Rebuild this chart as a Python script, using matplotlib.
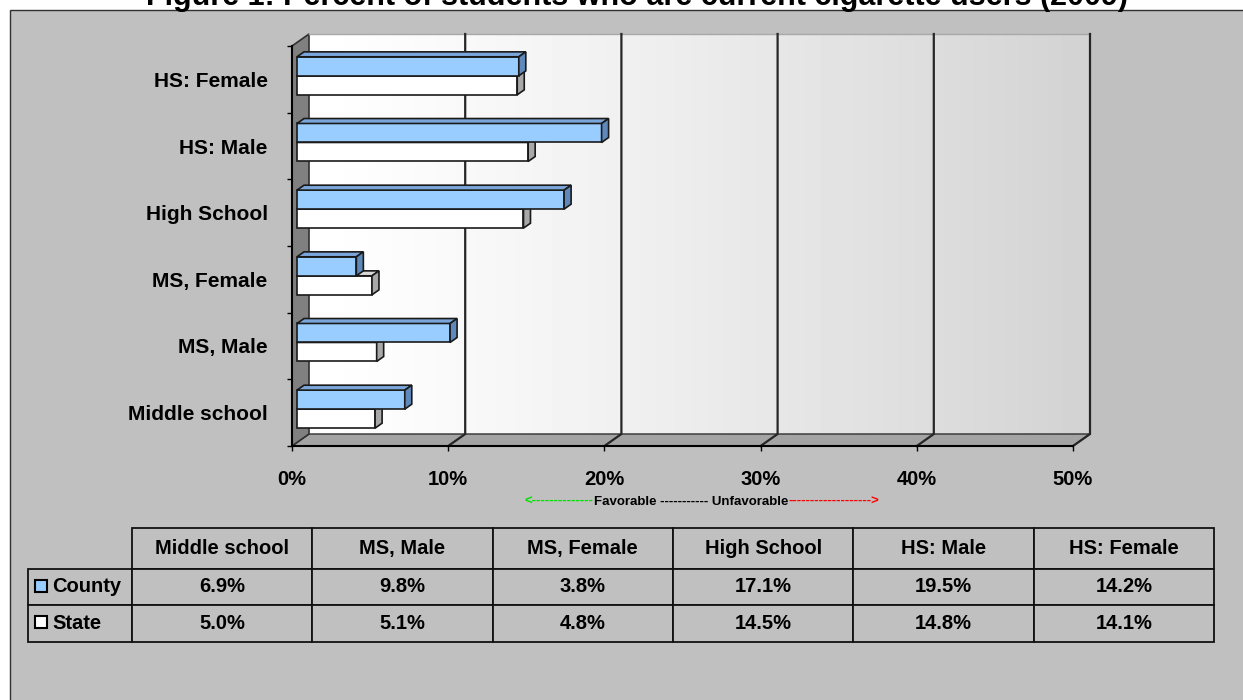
import numpy as np
import matplotlib.pyplot as plt
from matplotlib.patches import Polygon, Rectangle

plt.rcParams['font.family'] = ['Liberation Sans', 'DejaVu Sans']
plt.rcParams['font.weight'] = 'bold'

# data
categories = ['Middle school', 'MS, Male', 'MS, Female', 'High School', 'HS: Male', 'HS: Female']
county = [6.9, 9.8, 3.8, 17.1, 19.5, 14.2]
state = [5.0, 5.1, 4.8, 14.5, 14.8, 14.1]
series = ['County', 'State']
x_ticks = [0, 10, 20, 30, 40, 50]
x_labels = ['0%', '10%', '20%', '30%', '40%', '50%']
title = 'Figure 1: Percent of students who are current cigarette users (2009)'

W, H = 1243, 700


def fx(px):
    return px / W


def fy(py):
    return 1 - py / H


fig = plt.figure(figsize=(W / 100, H / 100), dpi=100)
fig.patch.set_facecolor('white')
fig.add_artist(Rectangle((fx(9.5), -0.02), 1.1, fy(10) + 0.02, transform=fig.transFigure,
                         facecolor='#c0c0c0', edgecolor='#303030', lw=1, zorder=0))
fig.text(fx(637), fy(5), title, ha='center', va='baseline', fontsize=22, fontweight='bold')

# main 3d-looking bar chart, data coords are the front plane
ax = fig.add_axes([fx(292), fy(446), (1073 - 292) / W, 400 / H])
ax.set_facecolor('none')
DX = 50 * 17 / 781   # depth shift in x units
DY = 6 * 12 / 400    # depth shift in y units
Z0, Z1 = 5 / 17, 12 / 17  # bar depth inside the box
BAR_H = 0.285

grad = np.linspace(0, 1, 256) ** 1.2
grad = 1.0 - 0.175 * grad
ax.imshow(grad[None, :], cmap='gray', vmin=0, vmax=1, extent=[DX, 50 + DX, DY, 6 + DY],
          aspect='auto', zorder=0.5, clip_on=False, interpolation='bilinear')

ax.add_patch(Polygon([(0, 0), (50, 0), (50 + DX, DY), (DX, DY)], closed=True, fc='#a4a4a4',
                     ec='#303030', lw=1, clip_on=False, zorder=1))
ax.add_patch(Polygon([(0, 0), (DX, DY), (DX, 6 + DY), (0, 6)], closed=True, fc='#808080',
                     ec='#303030', lw=1.2, clip_on=False, zorder=1))
ax.plot([DX, 50 + DX], [6 + DY, 6 + DY], color='#a8a8a8', lw=1, clip_on=False, zorder=1.2)
for t in x_ticks[1:]:
    ax.plot([t, t + DX, t + DX], [0, DY, 6 + DY], color='#262626', lw=1.6,
            clip_on=False, zorder=1.5, solid_joinstyle='miter')


def p(x, y, z):
    return (x + z * DX, y + z * DY)


def bar3d(y0, v, front, top, side, z):
    y1 = y0 + BAR_H
    faces = [
        ([p(0, y0, Z0), p(v, y0, Z0), p(v, y1, Z0), p(0, y1, Z0)], front),
        ([p(0, y1, Z0), p(v, y1, Z0), p(v, y1, Z1), p(0, y1, Z1)], top),
        ([p(v, y0, Z0), p(v, y0, Z1), p(v, y1, Z1), p(v, y1, Z0)], side),
    ]
    for pts, c in faces:
        ax.add_patch(Polygon(pts, closed=True, fc=c, ec='#1a1a1a', lw=1.2, joinstyle='miter',
                             clip_on=False, zorder=z))


for i, (cv, sv) in enumerate(zip(county, state)):
    bar3d(i + 0.5 - BAR_H, sv, 'white', '#d8d8d8', '#a8a8a8', 3 + i * 0.1)
    bar3d(i + 0.5, cv, '#99ccff', '#7aa6da', '#5f88bb', 3.05 + i * 0.1)

ax.set_xlim(0, 50)
ax.set_ylim(0, 6)
ax.set_xticks(x_ticks)
ax.set_xticklabels(x_labels)
ax.tick_params(axis='x', length=3.6, width=1, pad=13.5, labelsize=14.5, direction='out')
ax.set_yticks(np.arange(7))
ax.set_yticklabels([])
ax.set_yticks(np.arange(6) + 0.5, minor=True)
ax.set_yticklabels(categories, minor=True)
ax.tick_params(axis='y', which='major', length=3.6, width=1, direction='out')
ax.tick_params(axis='y', which='minor', length=0, pad=17.5, labelsize=15)
for lab in ax.get_xticklabels() + ax.get_yticklabels(minor=True):
    lab.set_fontweight('bold')
ax.spines['top'].set_visible(False)
ax.spines['right'].set_visible(False)
for s in ['bottom', 'left']:
    ax.spines[s].set_linewidth(1.5)
    ax.spines[s].set_zorder(2)

# favorable / unfavorable note
fig.text(fx(593), fy(502), '<' + '-' * 14, color='#00e000', ha='right', va='center', fontsize=9.5)
mid = fig.text(fx(594), fy(502), 'Favorable ----------- Unfavorable', ha='left', va='center',
               fontsize=9.5)
renderer = fig.canvas.get_renderer()
ext = mid.get_window_extent(renderer)
fig.text(ext.x1 / W, fy(502), '-' * 19 + '>', color='#ff0000', ha='left', va='center',
         fontsize=9.5)

# data table (first column holds the series names)
TW, TH = 1214 - 28, 642 - 528
tax = fig.add_axes([fx(28), fy(642), TW / W, TH / H])
tax.axis('off')
cell_text = [[series[0]] + [f'{v:.1f}%' for v in county],
             [series[1]] + [f'{v:.1f}%' for v in state]]
tbl = tax.table(cellText=cell_text, colLabels=[''] + categories, cellLoc='center',
                bbox=[0, 0, 1, 1])
tbl.auto_set_font_size(False)
tbl.set_fontsize(14.5)
row_h = {0: 41, 1: 36, 2: 37}
for (r, c), cell in tbl.get_celld().items():
    cell.set_facecolor('#c0c0c0')
    cell.set_edgecolor('#111111')
    cell.set_linewidth(1.3)
    cell.set_width((104 if c == 0 else (TW - 104) / 6) / TW)
    cell.set_height(row_h[r] / TH)
    cell.get_text().set_fontweight('bold')
    if c == 0:
        cell.get_text().set_ha('left')
        cell._loc = 'left'
        cell.PAD = 0.23
        if r == 0:
            cell.visible_edges = 'open'

key_colors = ['#99ccff', 'white']
key_tops = [580, 616]
for col, top in zip(key_colors, key_tops):
    tax.add_patch(Rectangle(((35 - 28) / TW, (642 - top - 12) / TH), 12 / TW, 12 / TH,
                            fc=col, ec='black', lw=1.5, transform=tax.transAxes,
                            clip_on=False, zorder=10))

fig.savefig('out.png', dpi=100)
